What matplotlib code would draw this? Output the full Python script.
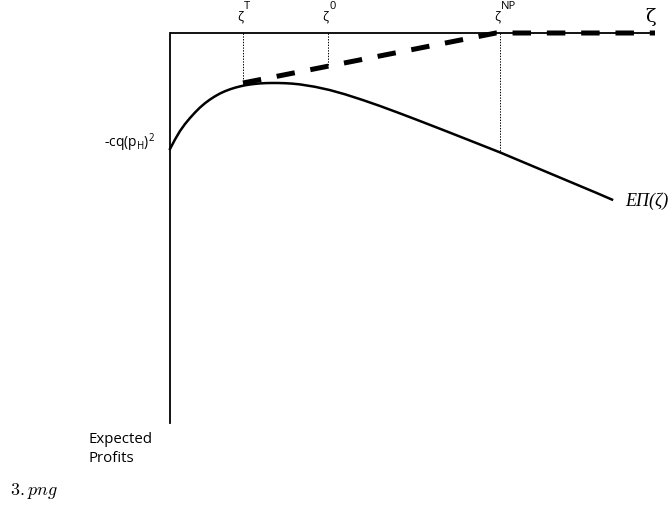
import matplotlib
matplotlib.use("Agg")
import matplotlib.pyplot as plt

plt.rcParams['lines.scale_dashes'] = False

# expected profit curve (pixel space, y down)
curve_x = [170, 175, 180, 185, 190, 195, 200, 205, 210, 215, 220, 225, 230, 235, 240,
           245, 250, 255, 260, 266, 272, 278, 285, 292, 300, 315, 330, 345, 363, 380,
           400, 415, 430, 447, 463, 480, 500, 520, 540, 560, 580, 596, 612]
curve_y = [150, 140.5, 132, 125, 119, 113.5, 108.5, 104.2, 100.5, 97.3, 94.5, 92.2, 90.3, 88.7, 87.4,
           86.3, 85.5, 84.9, 84.4, 84.1, 84, 84, 84.2, 84.6, 85.4, 87.8, 91.1, 95.3, 101.1, 107,
           114.4, 120.1, 125.9, 132.5, 138.8, 145.5, 153.4, 161.8, 170.2, 178.6, 187, 193.7, 200.6]

# dashed envelope (upper bound)
env_x = [243, 496, 655]
env_y = [84, 34, 34]

# critical points: label superscripts and where their guides stop
crit_sup = ['T', '0', 'NP']
crit_x = [243, 328, 500]
crit_y = [85, 67, 153]

fig = plt.figure(figsize=(6.7, 5.06), dpi=100)
ax = fig.add_axes([0, 0, 1, 1])
ax.set_xlim(0, 670)
ax.set_ylim(506, 0)
ax.axis('off')

# axes of the diagram
ax.plot([169.5, 169.5], [34, 424], color='black', lw=1.3)
ax.plot([169.5, 655], [34, 34], color='black', lw=1.3, solid_capstyle='butt')

for x, y in zip(crit_x, crit_y):
    ax.plot([x, x], [34, y], color='black', lw=0.7, ls=(0, (1, 1)))

ax.plot(env_x, env_y, color='black', lw=3.6, dashes=(13.3, 11.4), solid_capstyle='butt',
        dash_capstyle='butt')
ax.plot(curve_x, curve_y, color='black', lw=1.8, solid_joinstyle='round')

for sup, x in zip(crit_sup, crit_x):
    ax.text(x - 2.5, 17, 'ζ', fontsize=9, ha='center', va='center', family='Open Sans')
    ax.text(x + 1, 6, sup, fontsize=8, ha='left', va='center', family='Open Sans')

ax.text(650, 17, 'ζ', fontsize=14, ha='center', va='center', family='DejaVu Serif')
ax.text(155, 143, r'-cq(p$_{\mathregular{H}}$)$^{\mathregular{2}}$', fontsize=10, ha='right',
        va='center', family='Open Sans')
ax.text(625, 201, 'EΠ(ζ)', fontsize=13, ha='left', va='center',
        family='Liberation Serif', style='italic')
ax.text(88, 449, 'Expected\nProfits', fontsize=10.8, ha='left', va='center',
        family='Open Sans', linespacing=1.45)
ax.text(10, 491, r'$3.png$', fontsize=13, ha='left', va='center', math_fontfamily='cm')

fig.savefig('out.png', dpi=100)
